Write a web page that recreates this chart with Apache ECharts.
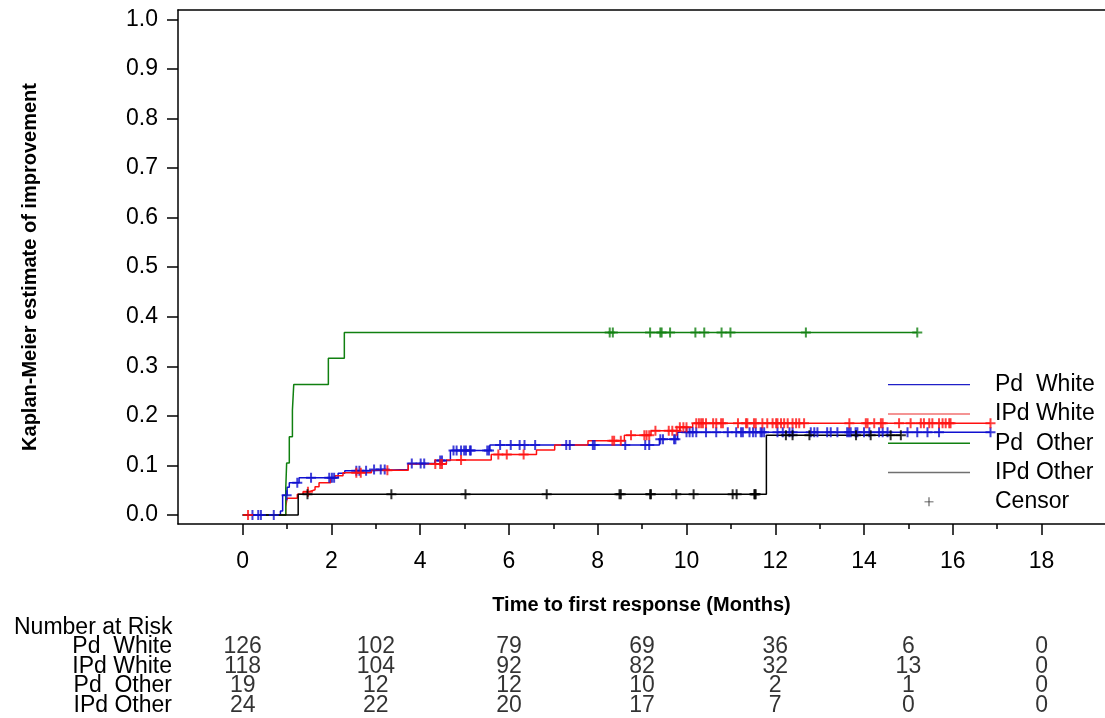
<!DOCTYPE html>
<html>
<head>
<meta charset="utf-8">
<script src="https://cdn.jsdelivr.net/npm/echarts@6/dist/echarts.min.js"></script>
<style>
  html, body { margin: 0; padding: 0; background: #fff; }
  #chart { width: 1105px; height: 718px; }
</style>
</head>
<body>
<div id="chart"></div>
<script>
// Kaplan-Meier steps: [time in months, cumulative estimate after the event]
const stepsPdWhite = [[0, 0], [0.85, 0.008], [0.90, 0.040], [1.00, 0.056], [1.05, 0.065], [1.27, 0.075],
  [2.15, 0.084], [2.30, 0.089], [2.85, 0.092], [3.73, 0.104], [4.33, 0.110], [4.68, 0.130],
  [5.57, 0.141], [9.39, 0.153], [9.80, 0.167], [16.85, 0.167]];
const stepsIPdWhite = [[0, 0], [0.97, 0.017], [1.00, 0.034], [1.23, 0.042], [1.36, 0.047], [1.50, 0.051],
  [1.63, 0.057], [1.72, 0.065], [1.98, 0.074], [2.08, 0.079], [2.26, 0.085], [2.90, 0.090],
  [3.73, 0.103], [4.59, 0.111], [5.60, 0.122], [6.62, 0.131], [7.03, 0.141], [7.78, 0.150],
  [8.60, 0.161], [9.20, 0.170], [9.85, 0.177], [10.14, 0.185], [16.85, 0.185]];
const stepsPdOther = [[0, 0], [0.97, 0.053], [0.99, 0.105], [1.05, 0.158], [1.12, 0.211], [1.15, 0.263],
  [1.93, 0.316], [2.29, 0.368], [15.2, 0.368]];
const stepsIPdOther = [[0, 0], [1.25, 0.042], [11.8, 0.161], [14.83, 0.161]];

// Censoring times (months)
const censorPdWhite = [0.22, 0.35, 0.41, 0.70, 0.99, 1.23, 1.54, 1.95, 2.01, 2.06, 2.56, 2.63, 2.78, 2.96,
  3.11, 3.20, 3.81, 4.01, 4.09, 4.45, 4.49, 4.75, 4.82, 4.92, 4.99, 5.03, 5.12, 5.14, 5.51, 5.55,
  5.80, 6.04, 6.24, 6.35, 6.59, 7.29, 7.37, 7.89, 7.93, 8.62, 9.07, 9.16, 9.41, 9.47, 9.72, 9.75,
  10.0, 10.07, 10.14, 10.22, 10.44, 10.67, 10.93, 11.12, 11.23, 11.27, 11.42, 11.50, 11.56, 11.67,
  11.70, 11.75, 12.05, 12.17, 12.32, 12.39, 12.80, 12.88, 12.95, 13.17, 13.25, 13.40, 13.62, 13.66,
  13.70, 13.81, 13.85, 14.00, 14.12, 14.34, 14.42, 14.53, 14.98, 15.20, 15.43, 15.69, 16.85];
const censorIPdWhite = [0.12, 1.47, 2.56, 2.66, 3.26, 4.34, 4.45, 4.49, 4.92, 5.76, 5.95, 6.33, 8.33, 8.37,
  8.52, 8.75, 9.05, 9.10, 9.16, 9.30, 9.60, 9.68, 9.78, 9.85, 9.93, 10.0, 10.22, 10.28, 10.33, 10.37,
  10.44, 10.60, 10.67, 10.78, 10.82, 11.16, 11.34, 11.37, 11.52, 11.56, 11.71, 11.82, 11.94, 12.02,
  12.05, 12.13, 12.20, 12.28, 12.39, 12.47, 12.54, 12.65, 13.67, 14.04, 14.08, 14.23, 14.38, 14.42,
  14.79, 15.05, 15.28, 15.35, 15.47, 15.54, 15.69, 15.77, 15.84, 15.92, 15.95, 16.85];
const censorPdOther = [8.27, 8.34, 9.18, 9.41, 9.44, 9.63, 10.20, 10.40, 10.79, 10.99, 12.69, 15.2];
const censorIPdOther = [1.46, 3.35, 5.02, 6.85, 8.49, 8.52, 9.18, 9.20, 9.77, 10.16, 11.04, 11.13, 11.53,
  11.54, 11.56, 12.24, 12.39, 12.77, 13.82, 14.15, 14.60, 14.83];

// Number at risk table
const riskTimes = [0, 3, 6, 9, 12, 15, 18];
const riskPdWhite = [126, 102, 79, 69, 36, 6, 0];
const riskIPdWhite = [118, 104, 92, 82, 32, 13, 0];
const riskPdOther = [19, 12, 12, 10, 2, 1, 0];
const riskIPdOther = [24, 22, 20, 17, 7, 0, 0];

const groupNames = ['Pd  White', 'IPd White', 'Pd  Other', 'IPd Other'];
const xMajorTicks = [0, 2, 4, 6, 8, 10, 12, 14, 16, 18];
const xMinorTicks = [1, 3, 5, 7, 9, 11, 13, 15, 17];
const yTicks = [0, 0.1, 0.2, 0.3, 0.4, 0.5, 0.6, 0.7, 0.8, 0.9, 1.0];

const FONT = "'Liberation Sans', Arial, sans-serif";
const colors = ['#1010d0', '#ff1010', '#108010', '#000000'];
const legendColors = ['#2020c8', '#f07070', '#108010', '#707070'];
const PLUS = 'path://M4,0H6V4H10V6H6V10H4V6H0V4H4Z';
const PLUS_THIN = 'path://M4.5,0H5.5V4.5H10V5.5H5.5V10H4.5V5.5H0V4.5H4.5Z';
const LINE_ICON = 'path://M0,0H82V1.4H0Z';

const X_MIN = -1.458, X_MAX = 19.43;
const Y_MIN = -0.0182, Y_MAX = 1.0188;

function valueAt(steps, t) {
  let v = steps[0][1];
  for (const s of steps) { if (s[0] <= t) v = s[1]; else break; }
  return v;
}

const stepSets = [stepsPdWhite, stepsIPdWhite, stepsPdOther, stepsIPdOther];
const censorSets = [censorPdWhite, censorIPdWhite, censorPdOther, censorIPdOther];
const riskSets = [riskPdWhite, riskIPdWhite, riskPdOther, riskIPdOther];

const series = [];
stepSets.forEach((steps, i) => {
  series.push({
    name: groupNames[i], type: 'line', step: 'end', data: steps,
    xAxisIndex: 0, yAxisIndex: 0, showSymbol: false, symbol: 'none',
    lineStyle: { color: colors[i], width: 1.5 }, itemStyle: { color: colors[i] },
    z: 3, animation: false, silent: true
  });
});
censorSets.forEach((times, i) => {
  series.push({
    name: 'Censor', type: 'scatter', xAxisIndex: 0, yAxisIndex: 0,
    data: times.map(t => [t, valueAt(stepSets[i], t)]),
    symbol: PLUS, symbolSize: 10, itemStyle: { color: colors[i] },
    z: 4, animation: false, silent: true
  });
});
riskSets.forEach((vals, i) => {
  series.push({
    type: 'scatter', xAxisIndex: 3, yAxisIndex: 1,
    data: vals.map((n, k) => [riskTimes[k], groupNames[i], n]),
    symbolSize: 0,
    label: { show: true, position: 'inside', formatter: p => String(p.value[2]),
      fontSize: 23, fontFamily: FONT, color: '#000' },
    animation: false, silent: true
  });
});

const chart = echarts.init(document.getElementById('chart'), null, { renderer: 'canvas' });
chart.setOption({
  backgroundColor: '#fff',
  animation: false,
  textStyle: { fontFamily: FONT },
  title: {
    text: 'Number at Risk', left: 14, top: 616, padding: 0,
    textStyle: { fontSize: 23, fontWeight: 'normal', fontFamily: FONT, color: '#000' }
  },
  grid: [
    { left: 178, top: 10, right: 0, bottom: 194 },
    { left: 178, top: 637, right: 0, height: 78 }
  ],
  legend: {
    orient: 'vertical', left: 888, top: 370, itemWidth: 82, itemHeight: 9, itemGap: 0,
    selectedMode: false, padding: 0,
    textStyle: { fontSize: 23, fontFamily: FONT, color: '#000', lineHeight: 29.3, padding: [0, 0, 0, 20] },
    data: groupNames.map((n, i) => ({ name: n, icon: LINE_ICON, itemStyle: { color: legendColors[i] } }))
      .concat([{ name: 'Censor', icon: PLUS_THIN, itemStyle: { color: '#000' } }])
  },
  xAxis: [
    {
      type: 'value', gridIndex: 0, min: X_MIN, max: X_MAX, position: 'bottom',
      axisLine: { show: true, onZero: false, lineStyle: { color: '#000', width: 1.5 } },
      axisTick: { show: true, customValues: xMajorTicks, length: 11, lineStyle: { color: '#000', width: 1.5 } },
      axisLabel: { show: true, customValues: xMajorTicks, fontSize: 23, color: '#000', margin: 26, fontFamily: FONT },
      splitLine: { show: false },
      name: 'Time to first response (Months)', nameLocation: 'middle', nameGap: 71,
      nameTextStyle: { fontSize: 20, fontWeight: 'bold', color: '#000', fontFamily: FONT }
    },
    {
      type: 'value', gridIndex: 0, min: X_MIN, max: X_MAX, position: 'bottom',
      axisLine: { show: false, onZero: false },
      axisTick: { show: true, customValues: xMinorTicks, length: 5, lineStyle: { color: '#000', width: 1.5 } },
      axisLabel: { show: false }, splitLine: { show: false }
    },
    {
      type: 'value', gridIndex: 0, min: X_MIN, max: X_MAX, position: 'top',
      axisLine: { show: true, onZero: false, lineStyle: { color: '#000', width: 1.5 } },
      axisTick: { show: false }, axisLabel: { show: false }, splitLine: { show: false }
    },
    {
      type: 'value', gridIndex: 1, min: X_MIN, max: X_MAX, show: false
    }
  ],
  yAxis: [
    {
      type: 'value', gridIndex: 0, min: Y_MIN, max: Y_MAX,
      axisLine: { show: true, onZero: false, lineStyle: { color: '#000', width: 1.5 } },
      axisTick: { show: true, customValues: yTicks, length: 11, lineStyle: { color: '#000', width: 1.5 } },
      axisLabel: { show: true, customValues: yTicks, fontSize: 23, color: '#000', margin: 20,
        fontFamily: FONT, formatter: v => v.toFixed(1) },
      splitLine: { show: false },
      name: 'Kaplan-Meier estimate of improvement', nameLocation: 'middle', nameRotate: 90, nameGap: 138,
      nameTextStyle: { fontSize: 20, fontWeight: 'bold', color: '#000', fontFamily: FONT }
    },
    {
      type: 'category', gridIndex: 1, inverse: true, data: groupNames,
      axisLine: { show: false }, axisTick: { show: false }, splitLine: { show: false },
      axisLabel: { show: true, interval: 0, fontSize: 23, color: '#000', margin: 6, fontFamily: FONT }
    }
  ],
  series: series
});
</script>
</body>
</html>
